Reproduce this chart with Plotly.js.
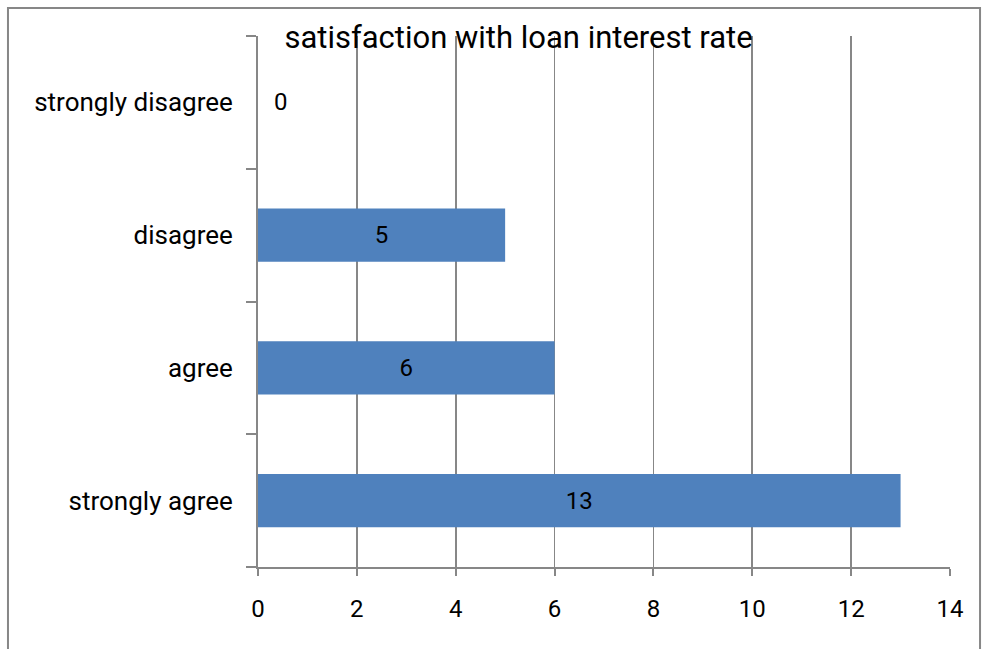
<!DOCTYPE html>
<html>
<head>
<meta charset="utf-8">
<script src="https://cdn.plot.ly/plotly-3.0.1.min.js"></script>
<style>html,body{margin:0;padding:0;background:#fff;}#chart{width:984px;height:649px;}</style>
</head>
<body>
<div id="chart"></div>
<script>
const categories = ['strongly agree', 'agree', 'disagree', 'strongly disagree'];
const counts = [13, 6, 5, 0];
const titleText = 'satisfaction with loan interest rate';

const FONT = 'Roboto, Open Sans, sans-serif';
const GRAY = '#878787';

const trace = {
  type: 'bar',
  orientation: 'h',
  y: categories,
  x: counts,
  text: counts.map(String),
  textposition: 'inside',
  insidetextanchor: 'middle',
  textfont: {family: FONT, size: 24, color: '#000'},
  insidetextfont: {family: FONT, size: 24, color: '#000'},
  constraintext: 'none',
  marker: {color: '#4F81BD', line: {width: 0}},
  hoverinfo: 'none'
};

// zero-valued bars have no width to hold their label: put it just right of the axis
const zeroLabels = [];
counts.forEach((v, i) => {
  if (v === 0) {
    zeroLabels.push({
      x: v, y: categories[i], xref: 'x', yref: 'y',
      text: String(v), showarrow: false, xanchor: 'left', xshift: 14,
      font: {family: FONT, size: 24, color: '#000'}
    });
  }
});

const layout = {
  width: 984, height: 649,
  margin: {l: 258, r: 34, t: 36, b: 82},
  paper_bgcolor: '#fff', plot_bgcolor: '#fff',
  showlegend: false,
  bargap: 0.6,
  font: {family: FONT, size: 24, color: '#000'},
  title: {text: titleText, font: {family: FONT, size: 31, color: '#000'}, x: 0.527, xanchor: 'center', y: 0.942, yanchor: 'middle'},
  xaxis: {
    range: [0, 14], dtick: 2, tick0: 0,
    showgrid: true, gridcolor: GRAY, gridwidth: 1.8,
    zeroline: false,
    showline: true, linecolor: GRAY, linewidth: 2,
    ticks: 'outside', ticklen: 7, tickcolor: GRAY, tickwidth: 2,
    ticklabelstandoff: 12,
    tickfont: {family: FONT, size: 24, color: '#000'},
    fixedrange: true
  },
  yaxis: {
    type: 'category',
    showgrid: false, zeroline: false,
    showline: true, linecolor: GRAY, linewidth: 2,
    ticks: 'outside', ticklen: 10, tickcolor: GRAY, tickwidth: 2,
    tickson: 'boundaries',
    ticklabelstandoff: 18,
    tickfont: {family: FONT, size: 26, color: '#000'},
    fixedrange: true
  },
  annotations: zeroLabels,
  shapes: [{
    type: 'rect', xref: 'paper', yref: 'paper',
    x0: -0.3613, x1: 1.0434, y0: -0.25, y1: 1.0527,
    line: {color: GRAY, width: 2}, fillcolor: 'rgba(0,0,0,0)', layer: 'above'
  }]
};

Plotly.newPlot('chart', [trace], layout, {displayModeBar: false, staticPlot: true});
</script>
</body>
</html>
